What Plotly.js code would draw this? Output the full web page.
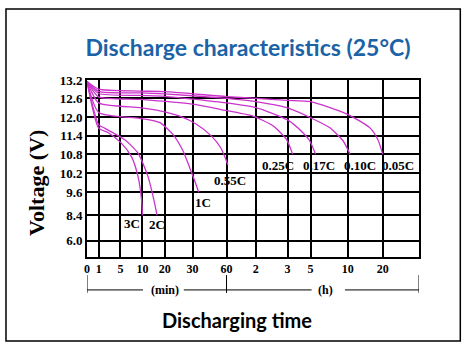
<!DOCTYPE html>
<html>
<head>
<meta charset="utf-8">
<script src="https://cdn.plot.ly/plotly-3.0.1.min.js"></script>
<style>html,body{margin:0;padding:0;background:#fff;}#chart{width:467px;height:351px;}</style>
</head>
<body>
<div id="chart"></div>
<script>
// ---- data (time in minutes, voltage in V) ----
const seriesNames = ['3C','2C','1C','0.55C','0.25C','0.17C','0.10C','0.05C'];
const t3C   = [0,1,2.7,5.2,7.5,9.0,9.8,10];
const v3C   = [13.15,11.65,11.51,11.16,10.72,10.09,9.2,8.4];
const t2C   = [0,1,2.1,6,9,12.5,15.5,16.5];
const v2C   = [13.15,11.76,11.65,11.27,10.83,10.09,8.99,8.4];
const t1C   = [0,1,9.4,17.8,23,26.6,29,32,35.5];
const v1C   = [13.15,12.16,11.97,11.83,11.44,10.9,10.37,9.95,9.6];
const t055C = [0,1,9.4,17.8,25.4,33.5,46.8,55,63];
const v055C = [13.15,12.46,12.31,12.21,12.04,11.78,11.39,11.0,10.46];
const t025C = [0,1,9.4,30,55,114,153,178,206];
const v025C = [13.15,12.65,12.57,12.42,12.25,12.04,11.72,11.28,10.8];
const t017C = [0,1,9.4,20,60,120,180,260,296,340];
const v017C = [13.15,12.76,12.7,12.67,12.46,12.31,11.92,11.5,11.23,10.8];
const t010C = [0,1,9.4,20,60,120,180,300,456,564,640];
const v010C = [13.15,12.83,12.78,12.75,12.6,12.5,12.3,11.99,11.66,11.23,10.8];
const t005C = [0,1,9.4,20,60,120,180,300,600,982,1119,1200];
const v005C = [13.15,12.9,12.84,12.82,12.66,12.6,12.54,12.5,12.1,11.66,11.27,10.8];

// tick values (grid) and labels
const xTickTimes  = [0,1,5,10,20,30,60,120,180,300,600,1200,1800];
const xTickLabels = ['0','1','5','10','20','30','60','2','3','5','10','20',''];
const yTickVolts  = [4.8,6.0,8.4,9.6,10.2,10.8,11.4,12.0,12.6,13.2];
const yTickLabels = ['','6.0','8.4','9.6','10.2','10.8','11.4','12.0','12.6','13.2'];

// ---- layout-only: where each grid line sits on the (irregular) scale ----
const xGridPos = [0,11.7,33.4,55.4,77.7,105.4,139.4,168.7,200.4,223.4,260.4,295.4,331.7];
const yGridPos = [0,16.3,41.7,64.7,83.7,102.7,121,139.3,158.3,176.7];
const labelOffsets = [[-10,8],[0,9],[4,10.5],[2,16],[-15,11],[3,11],[10,11],[15,11]];

function interp(v, src, dst){
  for(let i=0;i<src.length-1;i++){
    if(v<=src[i+1]){
      const f=(v-src[i])/(src[i+1]-src[i]);
      return dst[i]+f*(dst[i+1]-dst[i]);
    }
  }
  const n=src.length-1;
  return dst[n-1]+(v-src[n-1])/(src[n]-src[n-1])*(dst[n]-dst[n-1]);
}
const xScale = t => interp(t, xTickTimes, xGridPos);
const yScale = v => interp(v, yTickVolts, yGridPos);

const allT = [t3C,t2C,t1C,t055C,t025C,t017C,t010C,t005C];
const allV = [v3C,v2C,v1C,v055C,v025C,v017C,v010C,v005C];

const curveColor = '#cc33cc';
const traces = allT.map((t,i)=>({
  type:'scatter', mode:'lines', name:seriesNames[i],
  x:t.map(xScale), y:allV[i].map(yScale),
  line:{color:curveColor,width:1.3,shape:'spline',smoothing:0.6},
  hoverinfo:'skip', showlegend:false
}));

const serif = 'Liberation Serif, Times New Roman, serif';
const annotations = seriesNames.map((n,i)=>{
  const t=allT[i], v=allV[i];
  return {x:xScale(t[t.length-1]), y:yScale(v[v.length-1]), xref:'x', yref:'y',
    text:n, showarrow:false, xanchor:'center', yanchor:'middle',
    xshift:labelOffsets[i][0], yshift:-labelOffsets[i][1],
    font:{family:serif,size:13,color:'#000',weight:'bold'}};
});

const X0 = xScale(0), X60 = xScale(60), XEND = xGridPos[xGridPos.length-1];
annotations.push(
  {x:77.7, y:-0.186, xref:'x', yref:'paper', text:'(min)', showarrow:false,
   xanchor:'center', yanchor:'middle', font:{family:serif,size:12,color:'#000',weight:'bold'}},
  {x:238.4, y:-0.186, xref:'x', yref:'paper', text:'(h)', showarrow:false,
   xanchor:'center', yanchor:'middle', font:{family:serif,size:12,color:'#000',weight:'bold'}},
  {x:0.452, y:-0.356, xref:'paper', yref:'paper', text:'Discharging time', showarrow:false,
   xanchor:'center', yanchor:'middle', font:{family:'Lato, Open Sans, sans-serif',size:20,color:'#000',weight:'bold'}},
  {x:-0.154, y:0.418, xref:'paper', yref:'paper', text:'Voltage (V)', showarrow:false, textangle:-90,
   xanchor:'center', yanchor:'middle', font:{family:serif,size:22,color:'#000',weight:'bold'}}
);

const lineSty = {color:'#000', width:1};
const shapes = [
  {type:'line', xref:'x', yref:'paper', x0:X0, x1:X0, y0:-0.102, y1:-0.203, line:lineSty},
  {type:'line', xref:'x', yref:'paper', x0:X60, x1:X60, y0:-0.102, y1:-0.203, line:lineSty},
  {type:'line', xref:'x', yref:'paper', x0:XEND, x1:XEND, y0:-0.102, y1:-0.203, line:lineSty},
  {type:'line', xref:'x', yref:'paper', x0:X0, x1:56, y0:-0.186, y1:-0.186, line:lineSty},
  {type:'line', xref:'x', yref:'paper', x0:96.7, x1:X60, y0:-0.186, y1:-0.186, line:lineSty},
  {type:'line', xref:'x', yref:'paper', x0:X60, x1:224.4, y0:-0.186, y1:-0.186, line:lineSty},
  {type:'line', xref:'x', yref:'paper', x0:257.7, x1:XEND, y0:-0.186, y1:-0.186, line:lineSty},
  {type:'rect', xref:'paper', yref:'paper', x0:-0.244, x1:1.1244, y0:-0.4746, y1:1.401,
   line:{color:'#000',width:1.5}, fillcolor:'rgba(0,0,0,0)', layer:'below'}
];

const layout = {
  width:467, height:351,
  margin:{l:87, r:48, t:80, b:94, pad:0},
  paper_bgcolor:'#fff', plot_bgcolor:'#fff',
  title:{text:'Discharge characteristics (25°C)', xref:'container', yref:'container',
    x:0.531, y:0.863, xanchor:'center', yanchor:'middle',
    font:{family:'Lato, Open Sans, sans-serif', size:23, color:'#1b63a6', weight:'bold'}},
  xaxis:{range:[0,XEND], tickmode:'array', tickvals:xGridPos, ticktext:xTickLabels,
    showgrid:true, gridcolor:'#000', gridwidth:2, zeroline:false,
    showline:true, linecolor:'#000', linewidth:2, mirror:true, ticks:'',
    tickfont:{family:serif,size:12,color:'#000',weight:'bold'}, fixedrange:true},
  yaxis:{range:[0,yGridPos[yGridPos.length-1]], tickmode:'array', tickvals:yGridPos, ticktext:yTickLabels,
    showgrid:true, gridcolor:'#000', gridwidth:2, zeroline:false,
    showline:true, linecolor:'#000', linewidth:2, mirror:true, ticks:'',
    tickfont:{family:serif,size:13,color:'#000',weight:'bold'}, fixedrange:true},
  annotations:annotations, shapes:shapes, showlegend:false
};

Plotly.newPlot('chart', traces, layout, {staticPlot:true, displayModeBar:false});
</script>
</body>
</html>
